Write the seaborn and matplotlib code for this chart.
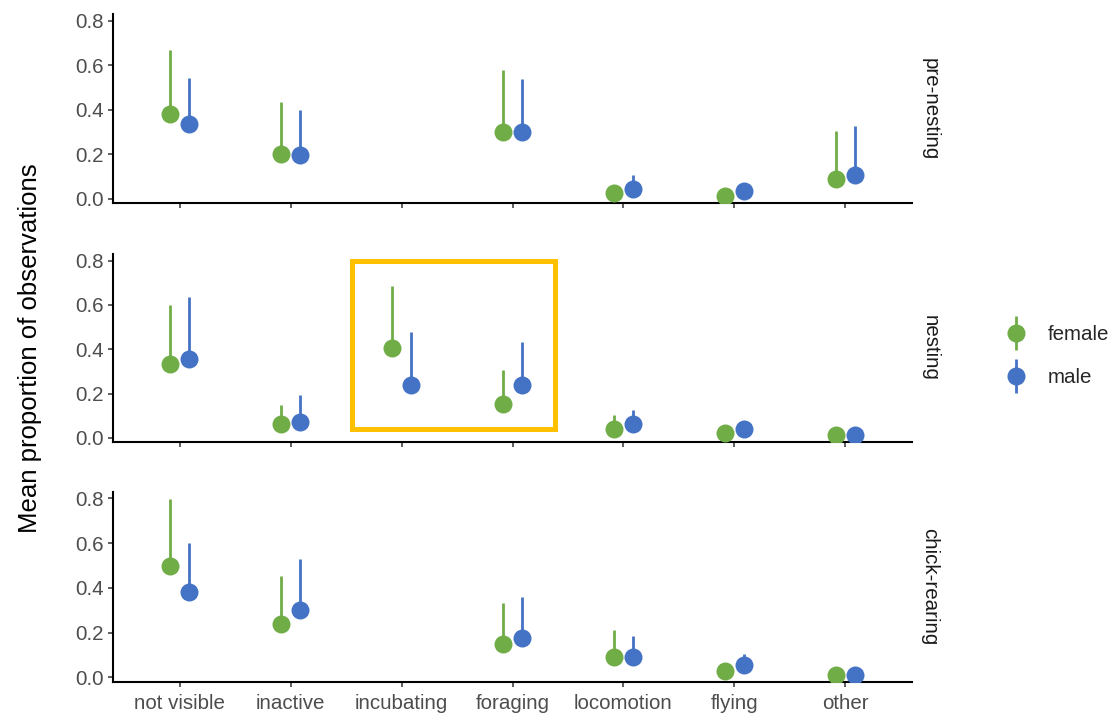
import numpy as np
import pandas as pd
import matplotlib
matplotlib.use("Agg")
import matplotlib.pyplot as plt
import seaborn as sns
from matplotlib.lines import Line2D
from matplotlib.patches import Rectangle
from matplotlib.legend_handler import HandlerTuple

# ---- data -------------------------------------------------------------
behaviours = ["not visible", "inactive", "incubating", "foraging",
              "locomotion", "flying", "other"]
stages = ["pre-nesting", "nesting", "chick-rearing"]
sexes = ["female", "male"]
nan = np.nan

# mean proportion and upper end of the error bar, per stage and sex
pre_female_mean = [0.382, 0.202, nan, 0.302, 0.027, 0.015, 0.087]
pre_female_upper = [0.667, 0.434, nan, 0.577, 0.055, 0.030, 0.304]
pre_male_mean = [0.337, 0.198, nan, 0.302, 0.045, 0.034, 0.105]
pre_male_upper = [0.542, 0.401, nan, 0.539, 0.105, 0.060, 0.326]

nest_female_mean = [0.333, 0.061, 0.406, 0.152, 0.038, 0.023, 0.012]
nest_female_upper = [0.599, 0.147, 0.685, 0.308, 0.102, 0.050, 0.030]
nest_male_mean = [0.356, 0.071, 0.238, 0.240, 0.064, 0.038, 0.012]
nest_male_upper = [0.636, 0.193, 0.477, 0.435, 0.126, 0.070, 0.030]

chick_female_mean = [0.498, 0.237, nan, 0.147, 0.090, 0.030, 0.011]
chick_female_upper = [0.798, 0.451, nan, 0.330, 0.210, 0.060, 0.030]
chick_male_mean = [0.383, 0.302, nan, 0.174, 0.090, 0.056, 0.011]
chick_male_upper = [0.599, 0.528, nan, 0.361, 0.184, 0.104, 0.030]

series = {
    ("pre-nesting", "female"): (pre_female_mean, pre_female_upper),
    ("pre-nesting", "male"): (pre_male_mean, pre_male_upper),
    ("nesting", "female"): (nest_female_mean, nest_female_upper),
    ("nesting", "male"): (nest_male_mean, nest_male_upper),
    ("chick-rearing", "female"): (chick_female_mean, chick_female_upper),
    ("chick-rearing", "male"): (chick_male_mean, chick_male_upper),
}

rows = []
for (stage, sex), (means, uppers) in series.items():
    for b, m, u in zip(behaviours, means, uppers):
        rows.append(dict(stage=stage, sex=sex, behaviour=b, mean=m, upper=u))
df = pd.DataFrame(rows)

palette = {"female": "#70AD47", "male": "#4472C4"}
code = {b: i for i, b in enumerate(behaviours)}
dodge = 0.175
offsets = {"female": -dodge / 2, "male": dodge / 2}

# ---- style ------------------------------------------------------------
sns.set_theme(style="ticks")
plt.rcParams["font.family"] = ["Liberation Sans", "DejaVu Sans"]

TICK_SIZE = 14.8
TITLE_SIZE = 18.5
MARKER_AREA = 168


def pointrange(data, **kws):
    ax = plt.gca()
    for k, sex in enumerate(sexes):
        sub = data[data["sex"] == sex].dropna(subset=["mean"])
        xpos = sub["behaviour"].map(code).values + offsets[sex]
        ax.vlines(xpos, sub["mean"].values, sub["upper"].values,
                  color=palette[sex], lw=2.0, zorder=2 + 2 * k)
        sns.scatterplot(x=xpos, y=sub["mean"].values, color=palette[sex],
                        s=MARKER_AREA, linewidth=0, ax=ax,
                        zorder=3 + 2 * k, legend=False)


g = sns.FacetGrid(df, row="stage", row_order=stages, height=2.3,
                  aspect=4.5, sharex=True, sharey=True)
g.map_dataframe(pointrange)
g.set_titles(row_template="", col_template="")
g.set_axis_labels("", "")

fig = g.figure
fig.set_size_inches(11.18, 7.15)
fig.set_dpi(100)

W, H = 1118.0, 715.0
left, right = 113, 912
panel_px = [(14, 203.3), (254, 442.3), (491.7, 681.7)]

for ax, stage, (top, bot) in zip(g.axes.flat, stages, panel_px):
    ax.set_position([left / W, 1 - bot / H, (right - left) / W, (bot - top) / H])
    ax.set_xlim(-0.6, len(behaviours) - 0.4)
    ax.set_ylim(-0.02, 0.83)
    ax.set_xticks(range(len(behaviours)))
    ax.set_yticks([0.0, 0.2, 0.4, 0.6, 0.8])
    ax.set_yticklabels([f"{v:.1f}" for v in [0.0, 0.2, 0.4, 0.6, 0.8]])
    ax.set_title("")
    ax.set_xlabel("")
    ax.set_ylabel("")
    for sp in ("left", "bottom"):
        ax.spines[sp].set_linewidth(1.5)
        ax.spines[sp].set_color("black")
    ax.tick_params(axis="both", length=3.6, width=1.1, color="#333333",
                   labelcolor="#4D4D4D", labelsize=TICK_SIZE, pad=3)
    cy = 1 - (top + bot) / 2 / H
    fig.text(930 / W, cy, stage, rotation=-90, ha="center", va="center",
             fontsize=TICK_SIZE, color="#1A1A1A")

bottom_ax = g.axes.flat[-1]
bottom_ax.set_xticklabels(behaviours)
bottom_ax.tick_params(axis="x", pad=5)

# highlight box around incubating / foraging during nesting
mid_ax = g.axes.flat[1]
mid_ax.add_patch(Rectangle((1.55, 0.038), 1.83, 0.762, fill=False,
                           ec="#FFC000", lw=3.6, clip_on=False, zorder=10))

fig.text(30 / W, 1 - 348 / H, "Mean proportion of observations",
         rotation=90, ha="center", va="center", fontsize=TITLE_SIZE,
         color="black")

handles = []
for sex in sexes:
    c = palette[sex]
    handles.append((Line2D([], [], marker="|", ms=24, mew=2.0, color=c, ls="none"),
                    Line2D([], [], marker="o", ms=13, color=c, ls="none", mew=0)))
fig.legend(handles, sexes,
           handler_map={tuple: HandlerTuple(ndivide=1, pad=0)},
           loc="center left", bbox_to_anchor=(985 / W, 1 - 356 / H),
           frameon=False, fontsize=TICK_SIZE, handlelength=1.2,
           handletextpad=0.95, labelspacing=1.14, borderpad=0.4)

fig.savefig("out.png", dpi=100)
